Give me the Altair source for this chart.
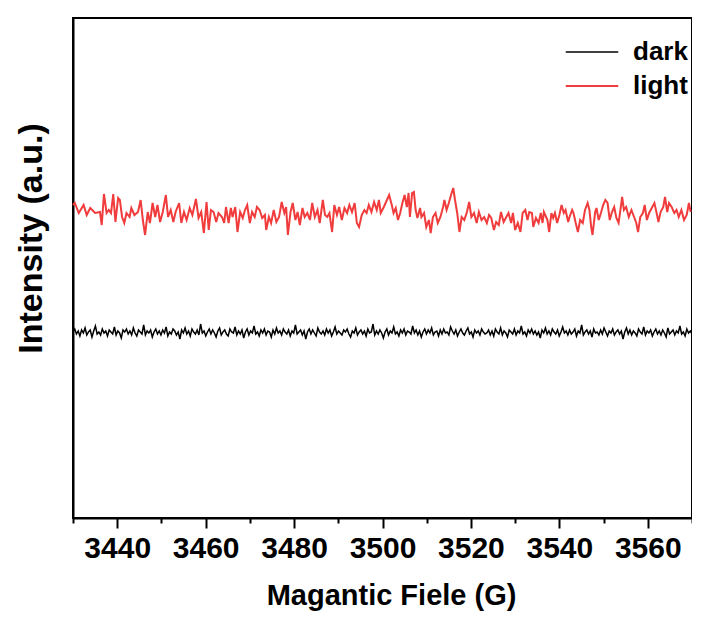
import altair as alt
import numpy as np
import pandas as pd

# ---- data ----
light_field = [
    3430.0, 3430.4, 3431.3, 3432.4, 3433.1, 3433.9, 3435.0, 3436.1, 3436.5, 3437.0,
    3437.6, 3438.1, 3438.6, 3439.1, 3439.6, 3440.2, 3440.6, 3441.1, 3441.6, 3442.1,
    3442.8, 3443.2, 3443.9, 3444.7, 3445.3, 3445.8, 3446.3, 3446.9, 3447.4, 3448.0,
    3448.6, 3449.1, 3449.7, 3450.3, 3451.0, 3451.5, 3452.1, 3452.7, 3453.2, 3454.0,
    3454.5, 3455.1, 3455.7, 3456.4, 3457.0, 3457.8, 3458.4, 3459.0, 3459.6, 3460.2,
    3460.7, 3461.2, 3461.8, 3462.4, 3462.9, 3463.7, 3464.2, 3464.6,
    3465.2, 3465.7, 3466.1, 3466.7, 3467.2, 3467.8, 3468.4, 3468.9, 3469.4, 3470.0,
    3470.5, 3471.1, 3471.6, 3472.2, 3472.8, 3473.4, 3473.7, 3474.3, 3474.8, 3475.4,
    3476.0, 3476.6, 3477.2, 3477.8, 3478.2, 3478.6, 3479.2, 3479.7, 3480.3, 3480.8,
    3481.3, 3481.9, 3482.4, 3483.0, 3483.6, 3484.1, 3484.7, 3485.3, 3485.8, 3486.5,
    3487.0, 3487.5, 3488.0, 3488.6, 3489.1, 3489.7, 3490.2, 3490.8, 3491.4, 3492.0,
    3492.5, 3493.1, 3493.7, 3494.2, 3494.7, 3495.3, 3495.9, 3496.4, 3496.9, 3497.5,
    3498.1, 3498.7, 3499.2, 3499.6,
    3500.3, 3500.8, 3501.5, 3502.1, 3502.5, 3503.0, 3503.5, 3504.0, 3504.5, 3505.0,
    3505.5, 3505.9, 3506.2, 3506.7, 3507.1, 3507.5, 3507.9, 3508.5, 3508.8, 3509.4,
    3509.9, 3510.5, 3510.9, 3511.4, 3512.0, 3512.5, 3513.1, 3513.7, 3514.0, 3514.5,
    3515.0, 3515.5, 3516.0, 3516.4, 3516.9, 3517.4, 3517.9, 3518.5, 3519.1, 3519.6,
    3520.1, 3520.7, 3521.3, 3521.8, 3522.4, 3523.0, 3523.6, 3524.1, 3524.6, 3525.2,
    3525.7, 3526.3, 3526.8, 3527.4, 3528.0, 3528.5, 3529.1, 3529.5, 3530.0, 3530.6,
    3531.2, 3531.7, 3532.3, 3532.8, 3533.2, 3533.8, 3534.1, 3534.7,
    3535.3, 3535.8, 3536.2, 3536.5, 3537.0, 3537.3, 3537.7, 3538.2, 3538.6, 3539.0,
    3539.5, 3540.0, 3540.5, 3541.0, 3541.4, 3542.0, 3542.3, 3542.9, 3543.2, 3543.7,
    3544.2, 3544.7, 3545.3, 3545.8, 3546.4, 3546.8, 3547.2, 3547.5, 3548.1, 3548.4,
    3548.9, 3549.4, 3549.9, 3550.4, 3550.9, 3551.4, 3551.9, 3552.4, 3552.9, 3553.4,
    3553.9, 3554.2, 3554.6, 3555.1, 3555.7, 3556.3, 3556.9, 3557.4, 3557.8, 3558.3,
    3558.9, 3559.3, 3559.8, 3560.3, 3560.9, 3561.5, 3562.1, 3562.4, 3562.9, 3563.5,
    3563.9, 3564.4, 3564.8, 3565.4, 3566.0, 3566.5, 3567.0, 3567.6, 3568.2, 3568.8,
    3569.3, 3569.7,
]
light_intensity = [
    315, 317, 307, 315, 305, 312, 307, 308, 295, 326,
    307, 310, 307, 326, 298, 322, 320, 303, 297, 307,
    303, 312, 305, 308, 320, 300, 285, 308, 297, 317,
    303, 315, 298, 308, 325, 303, 310, 298, 308, 317,
    297, 308, 300, 312, 305, 321, 302, 308, 287, 318,
    290, 310, 308, 298, 307, 303, 297, 313,
    297, 312, 303, 313, 288, 308, 302, 310, 315, 297,
    308, 303, 313, 310, 302, 305, 290, 303, 297, 310,
    298, 303, 318, 307, 313, 285, 308, 317, 300, 308,
    295, 312, 303, 307, 300, 317, 303, 310, 297, 320,
    305, 303, 307, 288, 315, 305, 313, 300, 312, 307,
    315, 308, 317, 297, 293, 305, 310, 307, 315, 308,
    318, 310, 320, 307,
    313, 318, 325, 315, 307, 312, 300, 307, 317, 325,
    313, 327, 303, 327, 328, 310, 302, 312, 303, 307,
    293, 300, 287, 303, 307, 297, 303, 313, 320, 310,
    317, 325, 332, 320, 307, 288, 303, 300, 308, 318,
    303, 307, 297, 308, 300, 303, 297, 305, 302, 290,
    298, 295, 308, 298, 303, 307, 297, 307, 290, 297,
    288, 307, 310, 300, 308, 307, 293, 302,
    297, 307, 297, 308, 303, 300, 288, 307, 302, 307,
    297, 305, 315, 307, 310, 298, 303, 310, 307, 297,
    288, 300, 297, 310, 317, 310, 293, 285, 308, 312,
    300, 307, 315, 320, 317, 300, 308, 313, 302, 297,
    313, 323, 310, 313, 303, 310, 303, 297, 288, 303,
    307, 315, 300, 307, 312, 317, 305, 298, 308, 313,
    323, 308, 317, 313, 307, 310, 303, 310, 300, 305,
    317, 308,
]
dark_intensity = [
    188, 191, 186, 189, 184, 190, 187, 192, 185, 188, 190, 183, 189, 194, 186, 188, 185, 191, 187, 189,
    184, 190, 188, 186, 193, 185, 189, 187, 182, 190, 188, 191, 186, 189, 185, 192, 187, 184, 190, 188,
    186, 195, 185, 189, 187, 190, 183, 188, 191, 186, 189, 185, 190, 187, 193, 184, 188, 186, 191, 189,
    185, 188, 181, 190, 187, 192, 186, 189, 184, 191, 188, 186, 190, 185, 196, 187, 189, 184, 188, 191,
    186, 190, 187, 183, 189, 192, 185, 188, 190, 186, 184, 191, 188, 187, 193, 185, 189, 186, 190, 182,
    188, 191, 185, 189, 187, 194, 186, 188, 184, 190, 187, 191, 185, 189, 188, 183, 190, 186, 192, 187,
    189, 185, 191, 188, 186, 190, 184, 189, 187, 195, 186, 188, 190, 185, 189, 181, 188, 191, 186, 190,
    187, 184, 192, 188, 186, 189, 185, 191, 187, 190, 184, 188, 193, 186, 189, 187, 185, 190, 188, 191,
    186, 183, 189, 187, 192, 185, 188, 190, 186, 189, 184, 191, 187, 188, 196, 185, 189, 186, 190, 187,
    182, 188, 191, 185, 189, 187, 193, 186, 188, 184, 190, 187, 191, 185, 189, 188, 186, 194, 187, 190,
    185, 189, 183, 188, 191, 186, 190, 187, 192, 185, 188, 189, 184, 190, 186, 191, 187, 188, 185, 193,
    189, 186, 190, 184, 188, 191, 187, 185, 189, 192, 186, 188, 183, 190, 187, 189, 185, 191, 188, 186,
    187, 190, 185, 189, 184, 191, 188, 186, 192, 185, 189, 187, 183, 190, 188, 186, 191, 185, 189, 187,
    194, 186, 188, 184, 190, 187, 191, 186, 189, 185, 188, 182, 190, 187, 192, 186, 189, 185, 191, 188,
    186, 190, 184, 188, 193, 187, 189, 185, 190, 186, 188, 191, 184, 189, 187, 195, 185, 188, 190, 186,
    189, 183, 191, 187, 188, 185, 190, 186, 192, 188, 184, 189, 187, 191, 185, 188, 190, 186, 189, 181,
    188, 192, 186, 190, 185, 189, 187, 184, 191, 188, 186, 193, 185, 189, 187, 190, 184, 188, 191, 186,
    189, 185, 190, 187, 183, 192, 186, 188, 190, 185, 189, 187, 194, 186, 188, 184, 191, 187, 189, 186,
]
dark_field = list(np.linspace(3430, 3570, len(dark_intensity)))

series_names = ["dark", "light"]
series_colors = ["#000000", "#F03C3C"]
series_widths = [1.5, 2.0]
major_ticks = [3440, 3460, 3480, 3500, 3520, 3540, 3560]
minor_ticks = [3430, 3450, 3470, 3490, 3510, 3530, 3550, 3570]

df = pd.concat([
    pd.DataFrame({"field": dark_field, "intensity": dark_intensity, "series": "dark"}),
    pd.DataFrame({"field": light_field, "intensity": light_intensity, "series": "light"}),
], ignore_index=True)

FONT = "Liberation Sans"
xscale = alt.Scale(domain=[3430, 3570], nice=False, zero=False)
yscale = alt.Scale(domain=[2, 502], nice=False, zero=False)

y_axis = alt.Axis(title="Intensity (a.u.)", labels=False, ticks=False, grid=False,
                  domainColor="black", domainWidth=2, titleFont=FONT, titleFontSize=34,
                  titleFontWeight="bold", titleColor="black", titleX=-42, titleY=220,
                  titleBaseline="middle", titleAngle=270)

color = alt.Color("series:N", scale=alt.Scale(domain=series_names, range=series_colors),
                  legend=alt.Legend(title=None, orient="none", legendX=506, legendY=21,
                                    symbolType="M-2.5,0H2.5", symbolSize=441,
                                    symbolStrokeWidth=1.5, symbolFillColor="transparent",
                                    labelFont=FONT, labelFontSize=26, labelFontWeight="bold",
                                    labelColor="black", labelOffset=28, rowPadding=8, padding=0))

sw = alt.StrokeWidth("series:N", scale=alt.Scale(domain=series_names, range=series_widths),
                     legend=None)

main = alt.Chart(df).mark_line().encode(
    x=alt.X("field:Q", scale=xscale,
            axis=alt.Axis(title="Magantic Fiele (G)", values=major_ticks, format="d",
                          tickSize=10, tickWidth=2, tickColor="black", grid=False,
                          domainColor="black", domainWidth=2,
                          labelFont=FONT, labelFontSize=30, labelFontWeight="bold",
                          labelColor="black", labelPadding=5,
                          titleFont=FONT, titleFontSize=29, titleFontWeight="bold",
                          titleColor="black", titleX=318, titleY=77, titleBaseline="middle",
                          orient="bottom")),
    y=alt.Y("intensity:Q", scale=yscale, axis=y_axis),
    color=color,
    strokeWidth=sw,
    order=alt.Order("field:Q"),
    detail="series:N",
)

minor = alt.Chart(df).mark_line(opacity=0).encode(
    x=alt.X("field:Q", scale=xscale,
            axis=alt.Axis(title=None, values=minor_ticks, labels=False, domain=False, grid=False,
                          tickSize=5, tickWidth=2, tickColor="black", orient="bottom")),
    y=alt.Y("intensity:Q", scale=yscale, axis=y_axis),
    detail="series:N",
)

chart = alt.layer(main, minor).resolve_axis(x="independent").properties(
    width=619, height=500,
    autosize=alt.AutoSizeParams(type="none"),
    padding={"left": 65, "top": 10, "right": 0, "bottom": 93},
).configure_view(stroke="black", strokeWidth=2)

chart.save("out.html", embed_options={"renderer": "svg", "actions": False})
